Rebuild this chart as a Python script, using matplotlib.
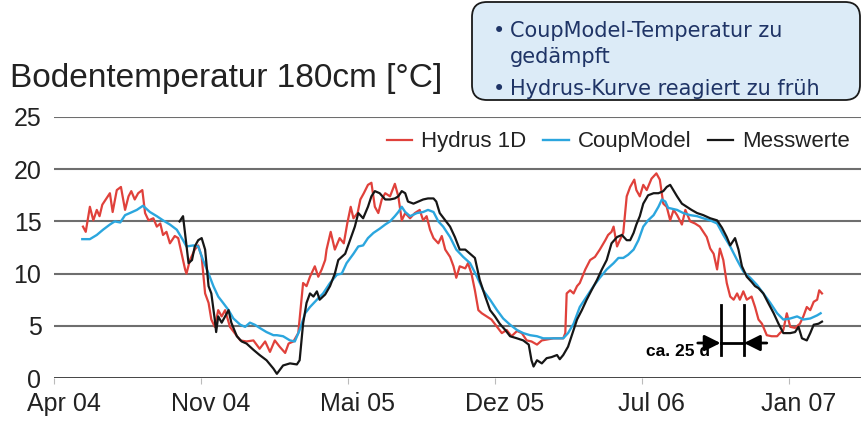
import matplotlib as mpl

mpl.use("Agg")
import matplotlib.pyplot as plt
from matplotlib.patches import FancyBboxPatch

plt.rcParams["font.family"] = ["Liberation Sans", "DejaVu Sans"]

# days since the first x tick (Apr 04); ticks are equally spaced
tick_days = [0, 213, 426, 639, 852, 1065]
tick_labels = ["Apr 04", "Nov 04", "Mai 05", "Dez 05", "Jul 06", "Jan 07"]
y_ticks = [0, 5, 10, 15, 20, 25]

hydrus_day = [42, 46, 52, 57, 62, 66, 70, 76, 81, 85, 91, 97, 103, 108, 112, 117, 122, 128,
              132, 137, 144, 149, 154, 158, 163, 168, 175, 180, 185, 190, 192, 197, 204, 209,
              214, 219, 224, 228, 233, 238, 243, 248, 255, 262, 270, 279, 289, 298, 306, 313,
              320, 327, 335, 340, 347, 354, 361, 366, 371, 378, 383, 388, 393, 395, 401, 407,
              414, 420, 425, 430, 434, 440, 444, 449, 455, 460, 465, 470, 475, 480, 487, 494,
              499, 504, 509, 516, 523, 530, 535, 540, 545, 550, 557, 562, 567, 574, 579, 583,
              588, 596, 600, 605, 610, 615, 620, 627, 634, 642, 649, 656, 663, 671, 678, 685,
              692, 700, 707, 724, 738, 741, 743, 748, 753, 758, 762, 770, 777, 784, 791, 799,
              803, 808, 811, 816, 820, 825, 830, 835, 841, 844, 849, 854, 859, 866, 873, 878,
              883, 888, 893, 898, 903, 910, 915, 922, 929, 936, 941, 946, 951, 956, 961, 965,
              970, 975, 980, 985, 990, 994, 999, 1004, 1011, 1016, 1021, 1026, 1033, 1040,
              1048, 1052, 1057, 1062, 1067, 1074, 1081, 1086, 1091, 1096, 1101, 1106, 1109, 1113]
hydrus_temp = [14.5, 14.0, 16.4, 15.1, 16.1, 15.5, 16.6, 17.2, 17.7, 15.9, 18.0, 18.3, 16.1,
               17.4, 17.9, 17.1, 17.7, 18.0, 15.8, 15.1, 15.3, 14.5, 14.8, 13.7, 14.0, 12.9,
               13.6, 13.4, 11.9, 10.4, 10.0, 11.3, 12.3, 12.7, 11.6, 8.1, 7.2, 5.6, 4.9, 6.5,
               5.9, 6.5, 4.9, 4.3, 3.6, 3.5, 3.6, 2.8, 3.5, 2.5, 3.6, 3.0, 2.4, 3.3, 3.5, 4.3,
               9.1, 8.8, 9.7, 10.7, 9.7, 10.4, 11.3, 12.3, 14.0, 12.3, 13.4, 12.9, 14.8, 16.4,
               15.3, 15.8, 17.1, 17.7, 18.5, 18.7, 16.4, 15.8, 17.1, 17.7, 17.4, 18.6, 17.4,
               15.1, 15.8, 15.3, 15.8, 16.1, 15.1, 15.5, 14.2, 13.4, 12.9, 13.6, 12.3, 11.6,
               10.7, 9.6, 10.7, 10.5, 11.0, 10.0, 8.4, 6.5, 6.2, 5.9, 5.6, 4.9, 4.3, 4.6, 4.0,
               4.5, 4.3, 3.6, 3.5, 3.2, 3.6, 3.8, 3.8, 4.3, 8.1, 8.4, 8.1, 8.8, 9.1, 10.4, 11.3,
               11.6, 12.3, 13.2, 13.7, 14.0, 14.5, 12.6, 13.2, 13.9, 17.4, 18.3, 19.0, 18.0,
               17.4, 18.5, 18.0, 19.1, 19.6, 19.0, 16.7, 16.4, 15.1, 16.1, 15.6, 14.7, 16.1,
               15.0, 14.8, 14.5, 14.0, 13.5, 12.4, 11.9, 10.4, 12.4, 11.3, 9.1, 7.8, 7.5, 8.1,
               7.5, 8.3, 7.5, 7.8, 6.8, 5.6, 5.2, 4.1, 4.0, 4.0, 4.3, 4.6, 6.2, 4.9, 4.8, 5.2,
               5.9, 6.8, 6.5, 7.3, 7.5, 8.4, 8.1]

coup_day = [41, 52, 62, 71, 81, 88, 96, 103, 110, 120, 129, 139, 149, 158, 168, 178, 187, 192,
            202, 209, 216, 224, 231, 238, 245, 253, 260, 270, 277, 284, 291, 298, 308, 318,
            323, 332, 342, 349, 356, 364, 371, 381, 390, 400, 410, 417, 424, 434, 441, 448,
            455, 463, 472, 480, 487, 494, 499, 504, 509, 516, 526, 535, 542, 550, 557, 564,
            574, 583, 593, 603, 613, 622, 632, 642, 651, 661, 671, 680, 690, 700, 709, 724,
            738, 745, 753, 762, 772, 782, 791, 801, 811, 818, 825, 832, 840, 847, 854, 861,
            869, 876, 881, 886, 890, 903, 912, 922, 932, 941, 951, 961, 970, 980, 990, 999,
            1009, 1019, 1028, 1038, 1048, 1057, 1067, 1077, 1086, 1096, 1106, 1111]
coup_temp = [13.3, 13.3, 13.7, 14.2, 14.7, 15.0, 14.9, 15.6, 15.8, 16.1, 16.5, 15.9, 15.5,
             15.1, 14.7, 14.2, 13.2, 12.6, 12.7, 12.6, 11.3, 10.0, 8.8, 7.8, 7.2, 6.5, 5.7,
             5.1, 4.9, 5.3, 5.1, 4.8, 4.4, 4.1, 4.1, 4.0, 3.6, 3.5, 4.6, 6.2, 6.8, 7.5, 8.1,
             9.1, 9.9, 10.0, 11.0, 11.9, 12.6, 12.7, 13.4, 13.9, 14.3, 14.7, 15.0, 15.5, 15.9,
             16.4, 15.9, 15.5, 15.8, 15.9, 16.1, 15.9, 15.0, 14.5, 13.5, 12.3, 11.6, 11.0, 9.7,
             8.4, 7.5, 6.5, 5.7, 5.1, 4.6, 4.3, 4.1, 4.0, 3.8, 3.8, 3.8, 4.3, 5.2, 6.8, 7.8,
             8.8, 9.6, 10.4, 11.0, 11.5, 11.5, 11.8, 12.3, 13.2, 14.5, 15.1, 15.6, 16.4, 17.1,
             16.9, 16.3, 16.1, 15.8, 15.6, 15.5, 15.3, 15.1, 14.8, 13.7, 12.6, 11.3, 10.2, 9.6,
             8.9, 8.1, 7.2, 6.2, 5.6, 5.7, 5.9, 5.6, 5.7, 6.0, 6.2]

mess_day = [182, 187, 195, 200, 204, 209, 214, 219, 224, 228, 233, 235, 238, 243, 248, 253,
            257, 265, 272, 279, 289, 298, 308, 318, 323, 332, 342, 352, 356, 361, 366, 371,
            376, 381, 385, 393, 400, 407, 412, 417, 422, 429, 436, 441, 448, 455, 460, 465,
            472, 480, 487, 494, 499, 504, 509, 513, 521, 528, 535, 542, 550, 554, 559, 567,
            574, 581, 588, 596, 603, 610, 617, 625, 632, 639, 646, 654, 661, 671, 680, 688,
            692, 695, 700, 707, 714, 721, 729, 733, 738, 745, 750, 758, 765, 772, 779, 787,
            794, 801, 808, 816, 823, 830, 835, 840, 844, 849, 854, 861, 869, 876, 883, 888,
            893, 903, 910, 917, 924, 932, 941, 951, 961, 968, 975, 980, 987, 992, 997, 1004,
            1011, 1016, 1021, 1028, 1035, 1043, 1050, 1057, 1067, 1074, 1079, 1084, 1091,
            1096, 1101, 1108, 1113]
mess_temp = [15.0, 15.5, 11.0, 11.3, 12.6, 13.2, 13.4, 12.3, 8.8, 8.1, 5.6, 4.4, 5.9, 5.3,
             5.9, 6.5, 5.3, 4.0, 3.5, 3.3, 2.7, 2.2, 1.7, 0.9, 0.4, 1.2, 1.4, 1.3, 1.7, 5.2,
             7.2, 8.1, 7.8, 8.3, 7.5, 8.0, 8.8, 10.0, 11.3, 11.6, 11.9, 13.2, 14.5, 15.8, 15.3,
             16.4, 17.4, 17.9, 17.7, 17.1, 17.1, 17.2, 17.4, 17.9, 17.7, 16.9, 16.7, 16.9,
             17.1, 17.2, 17.2, 16.9, 15.8, 15.1, 14.5, 13.5, 12.3, 12.3, 11.9, 11.5, 9.4, 7.8,
             6.5, 5.9, 5.2, 4.6, 4.0, 3.8, 3.6, 3.2, 1.7, 1.1, 1.7, 1.4, 1.9, 2.0, 2.2, 1.8,
             2.2, 3.0, 4.0, 5.6, 6.5, 7.5, 8.4, 9.4, 10.4, 11.3, 12.9, 13.5, 13.7, 13.2, 13.2,
             13.9, 14.7, 15.5, 16.7, 17.5, 17.7, 17.7, 17.9, 18.3, 18.5, 17.4, 16.7, 16.4,
             16.1, 15.8, 15.6, 15.3, 15.1, 14.4, 13.5, 12.7, 13.4, 12.3, 10.7, 9.7, 9.2, 8.8,
             8.6, 8.1, 7.2, 6.2, 5.2, 4.3, 4.3, 4.4, 4.9, 3.8, 3.6, 4.3, 5.1, 5.2, 5.4]

# "ca. 25 d" marker: two vertical bars and the arrows pointing at them
lag_days = [966, 1000]
lag_low, lag_high, lag_arrow_y = 2.2, 7.0, 3.35

RED = "#e0413b"
BLUE = "#2ba6de"
BLACK = "#161616"
NAVY = "#1f3466"

fig = plt.figure(figsize=(8.62, 4.21), dpi=100)
ax = fig.add_axes([54 / 862, 43 / 421, 1 - 54 / 862, 261 / 421])

ax.plot(hydrus_day, hydrus_temp, color=RED, lw=1.6, label="Hydrus 1D")
ax.plot(coup_day, coup_temp, color=BLUE, lw=1.7, label="CoupModel")
ax.plot(mess_day, mess_temp, color=BLACK, lw=1.6, label="Messwerte")

ax.set_xlim(0, 1171)
ax.set_ylim(0, 25)
for v in y_ticks[1:]:
    ax.axhline(v, color="#6e6e6e", lw=1.5, zorder=0)
ax.axhline(0, color="#333333", lw=2.0, zorder=3)
for s in ax.spines.values():
    s.set_visible(False)

ax.set_yticks(y_ticks)
ax.tick_params(axis="y", length=0, pad=9, labelsize=18, labelcolor="#222222")

# tick marks at the dates, labels sit a little to the right of them (minor ticks)
ax.set_xticks(tick_days)
ax.set_xticklabels([])
ax.tick_params(axis="x", which="major", length=4, color="#bbbbbb")
ax.set_xticks([d + 14 for d in tick_days], minor=True)
ax.set_xticklabels(tick_labels, minor=True)
ax.tick_params(axis="x", which="minor", length=0, pad=10, labelsize=18,
               labelcolor="#222222")

leg = ax.legend(loc="center right", bbox_to_anchor=(0.985, 0.905), ncol=3, frameon=False,
                fontsize=16, handlelength=1.15, handletextpad=0.4, columnspacing=0.75,
                borderpad=0, borderaxespad=0)
for t in leg.get_texts():
    t.set_color("#222222")

# lag annotation
for d in lag_days:
    ax.plot([d, d], [lag_low, lag_high], color="black", lw=2, zorder=5)
ax.plot(lag_days, [lag_arrow_y, lag_arrow_y], color="black", lw=2, zorder=5)
ax.annotate("", xy=(lag_days[0], lag_arrow_y), xytext=(lag_days[0] - 33, lag_arrow_y),
            arrowprops=dict(arrowstyle="-|>", color="black", lw=2, mutation_scale=24,
                            shrinkA=0, shrinkB=0), zorder=6)
ax.annotate("", xy=(lag_days[1], lag_arrow_y), xytext=(lag_days[1] + 33, lag_arrow_y),
            arrowprops=dict(arrowstyle="-|>", color="black", lw=2, mutation_scale=24,
                            shrinkA=0, shrinkB=0), zorder=6)
ax.text(950, 2.5, "ca. 25 d", ha="right", va="center", fontsize=12.5, fontweight="bold",
        color="black", zorder=4)

fig.text(10 / 862, 1 - 87 / 421, "Bodentemperatur 180cm [°C]", fontsize=24,
         color="#222222", va="baseline", ha="left")

# note box in the upper right
box = FancyBboxPatch((4.72, 3.21), 3.88, 0.98, boxstyle="round,pad=0,rounding_size=0.15",
                     transform=fig.dpi_scale_trans, facecolor="#dcebf7",
                     edgecolor="#1a1a1a", lw=1.3)
fig.patches.append(box)
note_font = dict(fontsize=15, color=NAVY, family="DejaVu Sans", va="baseline", ha="left")
fig.text(493 / 862, 1 - 37 / 421, "•", **note_font)
fig.text(510 / 862, 1 - 37 / 421, "CoupModel-Temperatur zu", **note_font)
fig.text(510 / 862, 1 - 63 / 421, "gedämpft", **note_font)
fig.text(493 / 862, 1 - 95 / 421, "•", **note_font)
fig.text(510 / 862, 1 - 95 / 421, "Hydrus-Kurve reagiert zu früh", **note_font)

fig.savefig("out.png", dpi=100)
